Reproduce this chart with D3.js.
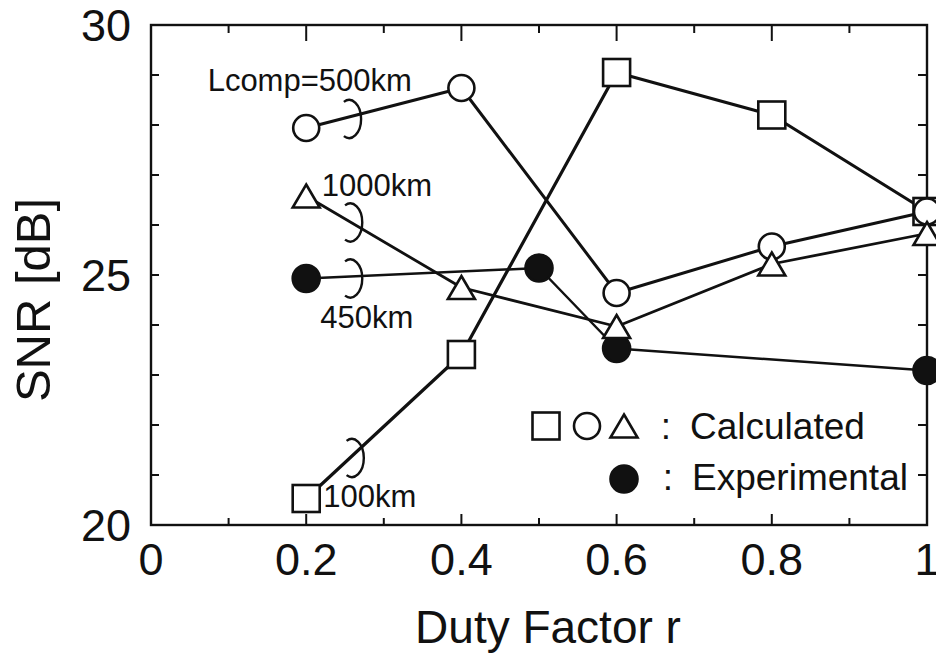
<!DOCTYPE html>
<html>
<head>
<meta charset="utf-8">
<script src="https://cdn.jsdelivr.net/npm/d3@7"></script>
<style>
  html, body { margin: 0; padding: 0; background: #fff; }
  svg { display: block; }
  text { font-family: "Liberation Sans", Arial, Helvetica, sans-serif; fill: #111; }
</style>
</head>
<body>
<svg id="chart" width="936" height="653"></svg>
<script>
// ---- data ----
const xCalc = [0.2, 0.4, 0.6, 0.8, 1.0];
const snr100km  = [20.53, 23.41, 29.05, 28.2, 26.27];   // squares
const snr500km  = [27.94, 28.74, 24.64, 25.57, 26.27];  // circles
const snr1000km = [26.58, 24.75, 23.97, 25.22, 25.83];  // triangles
const xExp = [0.2, 0.5, 0.6, 1.0];
const snr450kmExp = [24.93, 25.14, 23.53, 23.09];       // filled circles

const xTickLabels = ["0", "0.2", "0.4", "0.6", "0.8", "1"];
const yTickLabels = ["20", "25", "30"];

const curveLabels = [
  { text: "Lcomp=500km", x: 0.073, y: 28.68 },
  { text: "1000km",      x: 0.220, y: 26.59 },
  { text: "450km",       x: 0.218, y: 23.95 },
  { text: "100km",       x: 0.222, y: 20.36 }
];
const loops = [
  { x: 0.2555, y: 28.12 },
  { x: 0.257,  y: 26.05 },
  { x: 0.257,  y: 24.93 },
  { x: 0.259,  y: 21.34 }
];

// ---- layout ----
const svg = d3.select("#chart");
const L = 151, R = 927, T = 25, B = 525;
const x = d3.scaleLinear().domain([0, 1]).range([L, R]);
const y = d3.scaleLinear().domain([20, 30]).range([B, T]);

// frame
svg.append("rect").attr("x", L).attr("y", T).attr("width", R - L).attr("height", B - T)
  .attr("fill", "none").attr("stroke", "#111").attr("stroke-width", 2.4);

// ticks
const g = svg.append("g").attr("stroke", "#111").attr("stroke-width", 2);
d3.range(0, 1.0001, 0.1).forEach((v, i) => {
  const major = i % 2 === 0;
  g.append("line").attr("x1", x(v)).attr("x2", x(v)).attr("y1", B).attr("y2", B - (major ? 11 : 7));
  g.append("line").attr("x1", x(v)).attr("x2", x(v)).attr("y1", T).attr("y2", T + (major ? 16 : 8));
});
d3.range(21, 30).forEach(v => {
  g.append("line").attr("x1", L).attr("x2", L + 8).attr("y1", y(v)).attr("y2", y(v));
  g.append("line").attr("x1", R).attr("x2", R - 9).attr("y1", y(v)).attr("y2", y(v));
});

// tick labels
xTickLabels.forEach(t => {
  svg.append("text").attr("x", x(+t)).attr("y", 575).attr("text-anchor", "middle")
    .attr("font-size", 45).text(t);
});
yTickLabels.forEach(t => {
  svg.append("text").attr("x", 131).attr("y", y(+t) + 16).attr("text-anchor", "end")
    .attr("font-size", 45).text(t);
});

// axis titles
svg.append("text").attr("x", 548).attr("y", 643).attr("text-anchor", "middle")
  .attr("font-size", 46).text("Duty Factor r");
svg.append("text").attr("transform", "translate(50,300) rotate(-90)").attr("text-anchor", "middle")
  .attr("font-size", 49).text("SNR [dB]");

// lines
const line = d3.line().x(d => x(d[0])).y(d => y(d[1]));
const zip = (xs, ys) => xs.map((v, i) => [v, ys[i]]);
const series = [
  { pts: zip(xCalc, snr100km), w: 3.2 },
  { pts: zip(xCalc, snr500km), w: 3 },
  { pts: zip(xCalc, snr1000km), w: 2.8 },
  { pts: zip(xExp, snr450kmExp), w: 2.5 }
];
series.forEach(s => {
  svg.append("path").attr("d", line(s.pts)).attr("fill", "none")
    .attr("stroke", "#111").attr("stroke-width", s.w).attr("stroke-linejoin", "round");
});

// loops (bracket marks)
const lrx = 12, lry = 19;
loops.forEach(l => {
  const cx = x(l.x), cy = y(l.y);
  const sx = cx - lrx * 0.45, sy = cy - lry * 0.9;
  const ex = cx - lrx * 0.45, ey = cy + lry * 0.9;
  svg.append("path")
    .attr("d", `M${sx},${sy} A${lrx},${lry} 0 1 1 ${ex},${ey}`)
    .attr("fill", "none").attr("stroke", "#111").attr("stroke-width", 2.4);
});

// markers
function square(sel, cx, cy) {
  sel.append("rect").attr("x", cx - 13.5).attr("y", cy - 13.5).attr("width", 27).attr("height", 27)
    .attr("fill", "#fff").attr("stroke", "#111").attr("stroke-width", 2.6);
}
function circle(sel, cx, cy, filled) {
  sel.append("circle").attr("cx", cx).attr("cy", cy).attr("r", filled ? 13.5 : 13)
    .attr("fill", filled ? "#111" : "#fff").attr("stroke", "#111").attr("stroke-width", 2.6);
}
function triangle(sel, cx, cy) {
  const w = 27, h = 23;
  sel.append("path")
    .attr("d", `M${cx},${cy - h / 2} L${cx + w / 2},${cy + h / 2} L${cx - w / 2},${cy + h / 2} Z`)
    .attr("fill", "#fff").attr("stroke", "#111").attr("stroke-width", 2.6).attr("stroke-linejoin", "miter");
}
xCalc.forEach((v, i) => square(svg, x(v), y(snr100km[i])));
xCalc.forEach((v, i) => circle(svg, x(v), y(snr500km[i]), false));
xExp.forEach((v, i) => circle(svg, x(v), y(snr450kmExp[i]), true));
xCalc.forEach((v, i) => triangle(svg, x(v), y(snr1000km[i])));

// curve labels
curveLabels.forEach(c => {
  svg.append("text").attr("x", x(c.x)).attr("y", y(c.y)).attr("font-size", 31).text(c.text);
});

// legend
square(svg, 546, 426);
circle(svg, 587, 426, false);
triangle(svg, 624, 426);
svg.append("text").attr("x", 666).attr("y", 439).attr("text-anchor", "middle").attr("font-size", 37).text(":");
svg.append("text").attr("x", 690).attr("y", 439).attr("font-size", 37).text("Calculated");
circle(svg, 624, 479, true);
svg.append("text").attr("x", 668).attr("y", 490).attr("text-anchor", "middle").attr("font-size", 37).text(":");
svg.append("text").attr("x", 692).attr("y", 490).attr("font-size", 37).text("Experimental");
</script>
</body>
</html>
